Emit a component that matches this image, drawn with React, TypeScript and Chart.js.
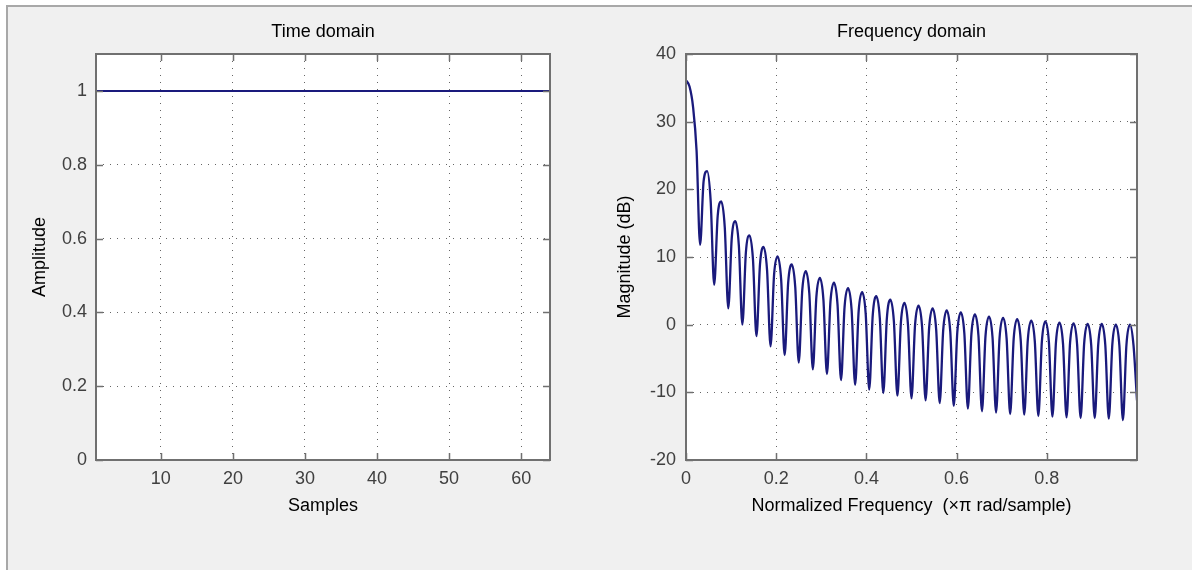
import { useEffect, useRef } from 'react';
import { Chart, registerables } from 'chart.js';

Chart.register(...registerables);

// ---------- Time domain (64-point rectangular window) ----------
const sampleIndex = [
  1, 2, 3, 4, 5, 6, 7, 8, 9, 10, 11, 12, 13, 14, 15, 16,
  17, 18, 19, 20, 21, 22, 23, 24, 25, 26, 27, 28, 29, 30, 31, 32,
  33, 34, 35, 36, 37, 38, 39, 40, 41, 42, 43, 44, 45, 46, 47, 48,
  49, 50, 51, 52, 53, 54, 55, 56, 57, 58, 59, 60, 61, 62, 63, 64,
];
const timeAmplitude = [
  1, 1, 1, 1, 1, 1, 1, 1, 1, 1, 1, 1, 1, 1, 1, 1,
  1, 1, 1, 1, 1, 1, 1, 1, 1, 1, 1, 1, 1, 1, 1, 1,
  1, 1, 1, 1, 1, 1, 1, 1, 1, 1, 1, 1, 1, 1, 1, 1,
  1, 1, 1, 1, 1, 1, 1, 1, 1, 1, 1, 1, 1, 1, 1, 1,
];
const timeXTicks = [10, 20, 30, 40, 50, 60];
const timeYTicks = [0, 0.2, 0.4, 0.6, 0.8, 1];

// ---------- Frequency domain (magnitude in dB, read per lobe) ----------
// 32 lobes between nulls spaced 1/32 apart in normalized frequency
const lobeCount = 32;
// value at each lobe boundary (f = k/32, k = 0..32): main-lobe top, sampled null dips, end value
const boundaryDb = [
  36.1, 11.8, 5.9, 2.4, 0.0, -1.7, -3.2, -4.5, -5.6, -6.6, -7.3, -8.2, -8.9,
  -9.6, -10.1, -10.5, -10.9, -11.2, -11.6, -12.0, -12.4, -12.8, -13.0, -13.2,
  -13.3, -13.5, -13.6, -13.7, -13.8, -13.8, -13.9, -14.1, -11.2,
];
// value a quarter of the way into each lobe
const riseDb = [
  35.2, 21.2, 16.1, 12.9, 10.7, 8.9, 7.4, 6.2, 5.1, 4.1, 3.4, 2.6, 2.0, 1.4,
  0.9, 0.4, -0.1, -0.5, -0.8, -1.1, -1.4, -1.7, -1.9, -2.1, -2.3, -2.5, -2.6,
  -2.7, -2.8, -2.9, -2.9, -3.0,
];
// value at the middle of each lobe (side-lobe peaks)
const peakDb = [
  32.2, 22.7, 18.2, 15.3, 13.2, 11.5, 10.1, 8.9, 7.9, 6.9, 6.2, 5.4, 4.8, 4.2,
  3.7, 3.2, 2.8, 2.4, 2.1, 1.8, 1.5, 1.2, 1.0, 0.8, 0.6, 0.5, 0.3, 0.2, 0.1,
  0.1, 0.0, 0.0,
];
// value three quarters of the way into each lobe
const fallDb = [
  25.7, 18.3, 14.4, 11.7, 9.7, 8.1, 6.7, 5.6, 4.6, 3.7, 3.0, 2.2, 1.6, 1.0,
  0.5, 0.0, -0.3, -0.7, -1.0, -1.3, -1.6, -1.9, -2.1, -2.3, -2.5, -2.6, -2.8,
  -2.9, -3.0, -3.0, -3.1, -3.0,
];
const freqXTicks = [0, 0.2, 0.4, 0.6, 0.8];
const freqYTicks = [-20, -10, 0, 10, 20, 30, 40];

function buildFreqTable() {
  const pts: { x: number; y: number }[] = [];
  const w = 1 / lobeCount;
  for (let k = 0; k < lobeCount; k++) {
    pts.push({ x: k * w, y: boundaryDb[k] });
    pts.push({ x: (k + 0.25) * w, y: riseDb[k] });
    pts.push({ x: (k + 0.5) * w, y: peakDb[k] });
    pts.push({ x: (k + 0.75) * w, y: fallDb[k] });
  }
  pts.push({ x: 1, y: boundaryDb[lobeCount] });
  return pts;
}

const FONT = '"Liberation Sans", Arial, Helvetica, sans-serif';
const LINE_COLOR = '#1a1a7c';
const GRID_COLOR = '#666666';
const AXIS_COLOR = '#707070';
const TICK_COLOR = '#404040';

const framePlugin = {
  id: 'matlabFrame',
  beforeDraw(chart: any) {
    const { ctx, chartArea: a } = chart;
    ctx.save();
    ctx.fillStyle = '#ffffff';
    ctx.fillRect(a.left, a.top, a.right - a.left, a.bottom - a.top);
    ctx.restore();
  },
  afterDraw(chart: any) {
    const { ctx, chartArea: a, scales } = chart;
    const len = 7;
    ctx.save();
    ctx.strokeStyle = AXIS_COLOR;
    ctx.lineWidth = 1.5;
    ctx.beginPath();
    scales.x.ticks.forEach((t: any) => {
      const px = Math.round(scales.x.getPixelForValue(t.value)) + 0.5;
      ctx.moveTo(px, a.bottom);
      ctx.lineTo(px, a.bottom - len);
      ctx.moveTo(px, a.top);
      ctx.lineTo(px, a.top + len);
    });
    scales.y.ticks.forEach((t: any) => {
      const py = Math.round(scales.y.getPixelForValue(t.value)) + 0.5;
      ctx.moveTo(a.left, py);
      ctx.lineTo(a.left + len, py);
      ctx.moveTo(a.right, py);
      ctx.lineTo(a.right - len, py);
    });
    ctx.stroke();
    ctx.lineWidth = 2;
    ctx.strokeRect(a.left, a.top, a.right - a.left, a.bottom - a.top);
    ctx.restore();
  },
};

function makeOptions(cfg: {
  title: string;
  xTitle: string;
  yTitle: string;
  xMin: number;
  xMax: number;
  yMin: number;
  yMax: number;
  xTicks: number[];
  yTicks: number[];
  yAxisWidth: number;
  rightPad: number;
  yTitlePad: number;
  yTickPad: number;
}) {
  const tickFont = { family: FONT, size: 18 };
  const titleFont = { family: FONT, size: 18, weight: 'normal' as const };
  return {
    responsive: false,
    animation: false,
    devicePixelRatio: 1,
    layout: { padding: { left: 0, right: cfg.rightPad, top: 0, bottom: 0 } },
    plugins: {
      legend: { display: false },
      tooltip: { enabled: false },
      title: {
        display: true,
        text: cfg.title,
        fullSize: false,
        color: '#000',
        font: titleFont,
        padding: { top: 20.8, bottom: 11.6 },
      },
    },
    scales: {
      x: {
        type: 'linear',
        min: cfg.xMin,
        max: cfg.xMax,
        afterBuildTicks: (s: any) => {
          s.ticks = cfg.xTicks.map((v) => ({ value: v }));
        },
        afterFit: (s: any) => {
          s.height = 110;
        },
        ticks: {
          color: TICK_COLOR,
          font: tickFont,
          padding: 8.2,
          maxRotation: 0,
          autoSkip: false,
          callback: (v: any) => String(v),
        },
        grid: { color: GRID_COLOR, lineWidth: 1, drawTicks: false },
        border: { display: false, dash: [1, 6] },
        title: {
          display: true,
          text: cfg.xTitle,
          color: '#000',
          font: titleFont,
          padding: { top: 0, bottom: 53.2 },
        },
      },
      y: {
        type: 'linear',
        min: cfg.yMin,
        max: cfg.yMax,
        afterBuildTicks: (s: any) => {
          s.ticks = cfg.yTicks.map((v) => ({ value: v }));
        },
        afterFit: (s: any) => {
          s.width = cfg.yAxisWidth;
        },
        ticks: {
          color: TICK_COLOR,
          font: tickFont,
          padding: cfg.yTickPad,
          autoSkip: false,
          callback: (v: any) => String(v),
        },
        grid: { color: GRID_COLOR, lineWidth: 1, drawTicks: false },
        border: { display: false, dash: [1, 6] },
        title: {
          display: true,
          text: cfg.yTitle,
          color: '#000',
          font: titleFont,
          padding: { top: cfg.yTitlePad, bottom: 0 },
        },
      },
    },
  } as any;
}

export default function App() {
  const leftRef = useRef<HTMLCanvasElement | null>(null);
  const rightRef = useRef<HTMLCanvasElement | null>(null);

  useEffect(() => {
    const left = new Chart(leftRef.current as HTMLCanvasElement, {
      type: 'line',
      data: {
        datasets: [
          {
            data: sampleIndex.map((s, i) => ({ x: s, y: timeAmplitude[i] })),
            borderColor: LINE_COLOR,
            borderWidth: 2,
            pointRadius: 0,
            fill: false,
          },
        ],
      },
      options: makeOptions({
        title: 'Time domain',
        xTitle: 'Samples',
        yTitle: 'Amplitude',
        xMin: 1,
        xMax: 64,
        yMin: 0,
        yMax: 1.1,
        xTicks: timeXTicks,
        yTicks: timeYTicks,
        yAxisWidth: 96,
        rightPad: 46,
        yTitlePad: 29.2,
        yTickPad: 9,
      }),
      plugins: [framePlugin],
    });

    const right = new Chart(rightRef.current as HTMLCanvasElement, {
      type: 'line',
      data: {
        datasets: [
          {
            data: buildFreqTable(),
            borderColor: LINE_COLOR,
            borderWidth: 2.3,
            pointRadius: 0,
            fill: false,
            cubicInterpolationMode: 'monotone',
          },
        ],
      },
      options: makeOptions({
        title: 'Frequency domain',
        xTitle: 'Normalized Frequency  (\u00d7\u03c0 rad/sample)',
        yTitle: 'Magnitude (dB)',
        xMin: 0,
        xMax: 1,
        yMin: -20,
        yMax: 40,
        xTicks: freqXTicks,
        yTicks: freqYTicks,
        yAxisWidth: 90,
        rightPad: 55,
        yTitlePad: 18.7,
        yTickPad: 10,
      }),
      plugins: [framePlugin],
    });

    return () => {
      left.destroy();
      right.destroy();
    };
  }, []);

  return (
    <div
      style={{
        position: 'absolute',
        left: 0,
        top: 0,
        width: 1192,
        height: 570,
        background: '#ffffff',
        overflow: 'hidden',
      }}
    >
      <div
        style={{
          position: 'absolute',
          left: 6,
          top: 5,
          width: 1186,
          height: 565,
          background: '#f0f0f0',
          borderTop: '2px solid #a8a8a8',
          borderLeft: '2px solid #a8a8a8',
          boxSizing: 'border-box',
        }}
      />
      <canvas
        ref={leftRef}
        width={596}
        height={570}
        style={{ position: 'absolute', left: 0, top: 0, width: 596, height: 570 }}
      />
      <canvas
        ref={rightRef}
        width={596}
        height={570}
        style={{ position: 'absolute', left: 596, top: 0, width: 596, height: 570 }}
      />
    </div>
  );
}
